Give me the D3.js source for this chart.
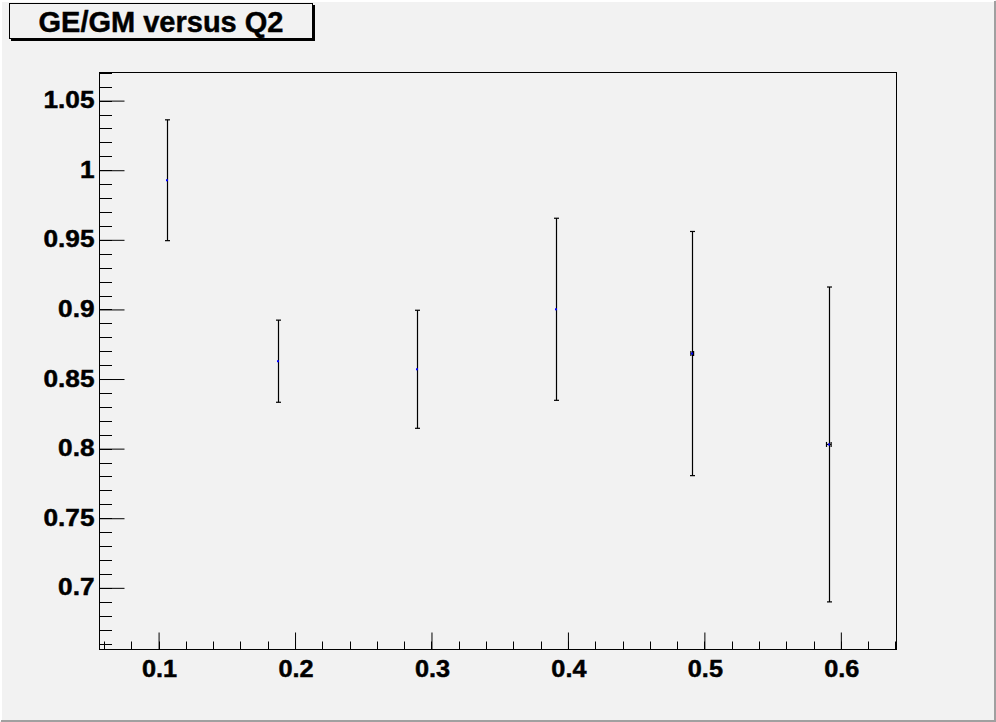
<!DOCTYPE html>
<html>
<head>
<meta charset="utf-8">
<script src="https://cdn.jsdelivr.net/npm/d3@7"></script>
<style>
  html, body { margin: 0; padding: 0; background: #f2f2f2; }
  svg { display: block; }
  text { font-family: "Liberation Sans", Arial, Helvetica, sans-serif; font-weight: bold; fill: #000; stroke: #000; stroke-width: 0.45px; }
</style>
</head>
<body>
<svg id="chart" width="996" height="722"></svg>
<script>
// ---- data ----
const title = "GE/GM versus Q2";
const q2 = [0.1059, 0.1872, 0.2891, 0.3911, 0.4911, 0.5912];
const ratio = [0.9928, 0.8628, 0.8570, 0.9001, 0.8683, 0.8030];
const errY = [0.0434, 0.0295, 0.0424, 0.0654, 0.0877, 0.1131];
const errX = [0, 0, 0, 0, 0.0010, 0.0017];
const xTicks = [0.1, 0.2, 0.3, 0.4, 0.5, 0.6];
const yTicks = [0.7, 0.75, 0.8, 0.85, 0.9, 0.95, 1, 1.05];
const xDomain = [0.0567, 0.6408];
const yDomain = [0.6557, 1.0702];

const W = 996, H = 722;
const frame = { left: 99.5, top: 72.5, right: 896.5, bottom: 649.5 };

const svg = d3.select("#chart");

// canvas background and border
svg.append("rect").attr("x", 0).attr("y", 0).attr("width", W).attr("height", H).attr("fill", "#f2f2f2");
svg.append("path").attr("d", `M1,${H-1} V1 H${W-1}`).attr("stroke", "#ffffff").attr("stroke-width", 2).attr("fill", "none");
svg.append("path").attr("d", `M1,${H-1} H${W-1} V1`).attr("stroke", "#a0a0a0").attr("stroke-width", 2).attr("fill", "none");

const x = d3.scaleLinear().domain(xDomain).range([frame.left, frame.right]);
const y = d3.scaleLinear().domain(yDomain).range([frame.bottom, frame.top]);

// frame
svg.append("rect")
  .attr("x", frame.left).attr("y", frame.top)
  .attr("width", frame.right - frame.left).attr("height", frame.bottom - frame.top)
  .attr("fill", "none").attr("stroke", "#000").attr("stroke-width", 1);

// minor ticks
const xMinor = d3.range(Math.ceil(xDomain[0] / 0.02), Math.floor(xDomain[1] / 0.02) + 1).map(i => i * 0.02);
const yMinor = d3.range(Math.ceil(yDomain[0] / 0.01), Math.floor(yDomain[1] / 0.01) + 1).map(i => i * 0.01);

// x axis
const xAxis = d3.axisBottom(x).tickValues(xTicks).tickSize(0).tickFormat(d3.format(".1f"));
const gx = svg.append("g").attr("transform", `translate(0,${frame.bottom})`).call(xAxis);
gx.select(".domain").remove();
gx.selectAll(".tick text").remove();
gx.selectAll(".tick").append("line").attr("y1", 0).attr("y2", -17).attr("stroke", "#000");
gx.selectAll(".tick").append("text")
  .attr("text-anchor", "middle")
  .attr("transform", "translate(0.5,27) scale(1.1,1)")
  .style("font-size", "23px")
  .text(d => d3.format(".1f")(d));
svg.append("g").selectAll("line").data(xMinor).join("line")
  .attr("x1", d => Math.round(x(d)) + 0.5).attr("x2", d => Math.round(x(d)) + 0.5)
  .attr("y1", frame.bottom).attr("y2", frame.bottom - 8)
  .attr("stroke", "#000");

// y axis
const yAxis = d3.axisLeft(y).tickValues(yTicks).tickSize(0);
const gy = svg.append("g").attr("transform", `translate(${frame.left},0)`).call(yAxis);
gy.select(".domain").remove();
gy.selectAll(".tick text").remove();
gy.selectAll(".tick").append("line").attr("x1", 0).attr("x2", 25).attr("stroke", "#000");
gy.selectAll(".tick").append("text")
  .attr("text-anchor", "end")
  .attr("transform", "translate(-5,7) scale(1.14,1)")
  .style("font-size", "23px")
  .text(d => d3.format("")(+d.toFixed(2)));
svg.append("g").selectAll("line").data(yMinor).join("line")
  .attr("y1", d => Math.round(y(d)) + 0.5).attr("y2", d => Math.round(y(d)) + 0.5)
  .attr("x1", frame.left).attr("x2", frame.left + 12.5)
  .attr("stroke", "#000");

// data points with error bars
const pts = q2.map((v, i) => ({ x: v, y: ratio[i], ey: errY[i], ex: errX[i] }));
const gp = svg.append("g");
const cap = 2.5;
pts.forEach(p => {
  const cx = Math.round(x(p.x)) + 0.5;
  const cy = y(p.y);
  const yt = y(p.y + p.ey), yb = y(p.y - p.ey);
  gp.append("line").attr("x1", cx).attr("x2", cx).attr("y1", yt).attr("y2", yb).attr("stroke", "#000").attr("stroke-width", 1.2);
  gp.append("line").attr("x1", cx - cap).attr("x2", cx + cap).attr("y1", yt).attr("y2", yt).attr("stroke", "#000").attr("stroke-width", 1.2);
  gp.append("line").attr("x1", cx - cap).attr("x2", cx + cap).attr("y1", yb).attr("y2", yb).attr("stroke", "#000").attr("stroke-width", 1.2);
  if (p.ex > 0) {
    const xl = x(p.x - p.ex), xr = x(p.x + p.ex);
    gp.append("line").attr("x1", xl).attr("x2", xr).attr("y1", cy).attr("y2", cy).attr("stroke", "#000").attr("stroke-width", 1.2);
    gp.append("line").attr("x1", xl).attr("x2", xl).attr("y1", cy - 2.5).attr("y2", cy + 2.5).attr("stroke", "#000").attr("stroke-width", 1.2);
    gp.append("line").attr("x1", xr).attr("x2", xr).attr("y1", cy - 2.5).attr("y2", cy + 2.5).attr("stroke", "#000").attr("stroke-width", 1.2);
  }
  gp.append("rect").attr("x", cx - 1.5).attr("y", cy - 1).attr("width", 2).attr("height", 2).attr("fill", "#0000ff");
});

// title box
const tb = svg.append("g");
tb.append("rect").attr("x", 11).attr("y", 5).attr("width", 304).attr("height", 36).attr("fill", "#000");
tb.append("rect").attr("x", 9.5).attr("y", 3.5).attr("width", 303).attr("height", 35).attr("fill", "#f2f2f2").attr("stroke", "#000").attr("stroke-width", 1);
tb.append("text").attr("x", 161).attr("y", 32).attr("text-anchor", "middle")
  .style("font-size", "29px").text(title);
</script>
</body>
</html>
